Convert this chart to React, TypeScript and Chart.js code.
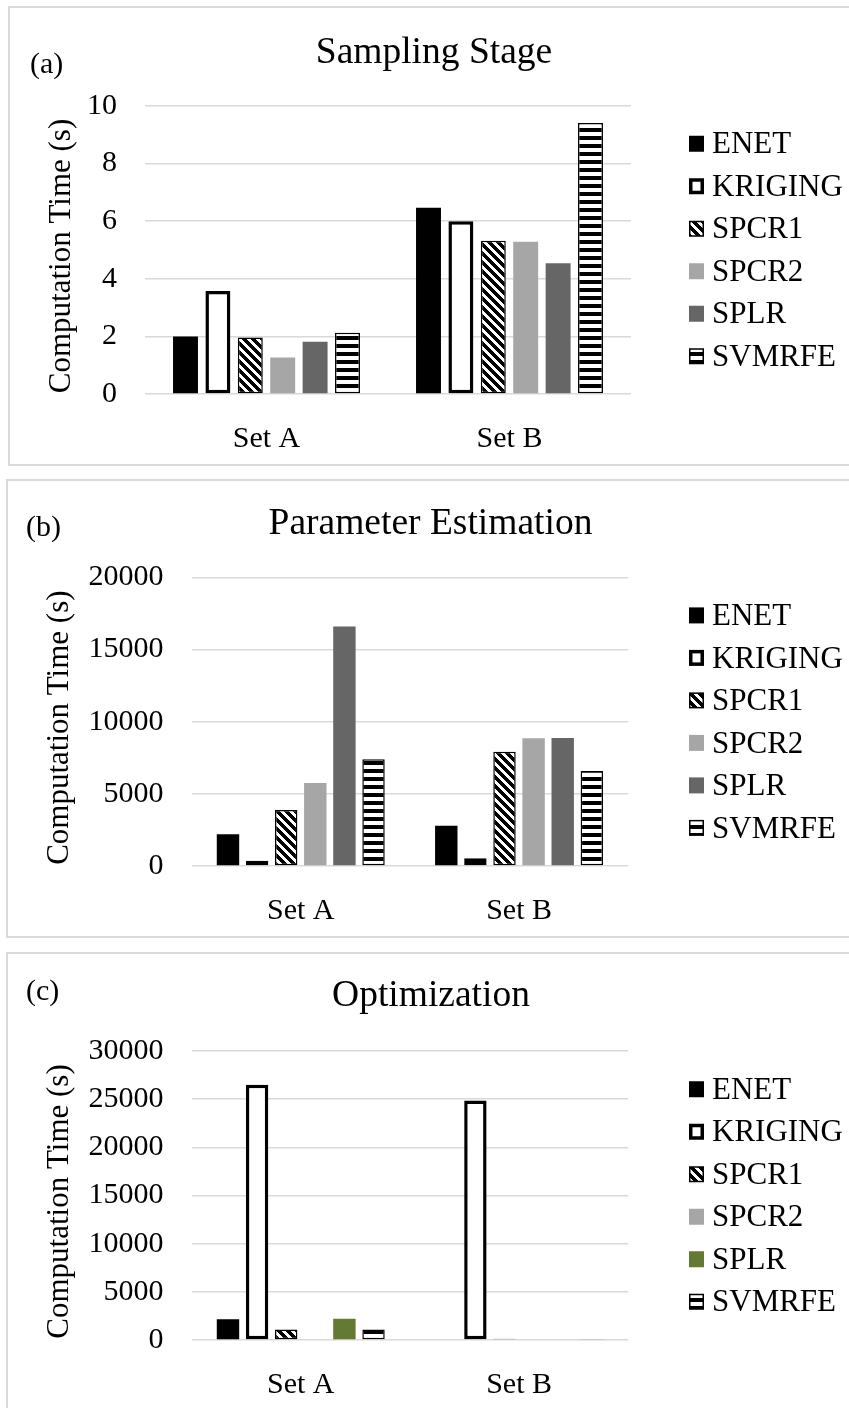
import React, { useEffect, useRef } from "react";
import { Chart, registerables } from "chart.js";

Chart.register(...registerables);

const FONT = "'Liberation Serif', 'Times New Roman', serif";

// Shared category and series names
const categories = ["Set A", "Set B"];
const seriesNames = ["ENET", "KRIGING", "SPCR1", "SPCR2", "SPLR", "SVMRFE"];
const axisTitle = "Computation Time (s)";

// (a) Sampling stage, seconds
const samplingENET = [2.0, 6.47];
const samplingKRIGING = [3.58, 6.0];
const samplingSPCR1 = [1.96, 5.32];
const samplingSPCR2 = [1.27, 5.29];
const samplingSPLR = [1.81, 4.54];
const samplingSVMRFE = [2.13, 9.41];
const samplingTicks = { max: 10, step: 2 };

// (b) Parameter estimation, seconds
const estimationENET = [2200, 2790];
const estimationKRIGING = [370, 530];
const estimationSPCR1 = [3880, 7920];
const estimationSPCR2 = [5750, 8850];
const estimationSPLR = [16600, 8870];
const estimationSVMRFE = [7390, 6580];
const estimationTicks = { max: 20000, step: 5000 };

// (c) Optimization, seconds
const optimizationENET = [2150, 0];
const optimizationKRIGING = [26500, 24850];
const optimizationSPCR1 = [1100, 120];
const optimizationSPCR2 = [0, 0];
const optimizationSPLR = [2200, 0];
const optimizationSVMRFE = [1100, 40];
const optimizationTicks = { max: 30000, step: 5000 };

type PanelCfg = {
  tag: string;
  title: string;
  values: number[][];
  ticks: { max: number; step: number };
  splrColor: string;
  box: { left: number; top: number; width: number; height: number };
  area: { left: number; right: number; top: number; bottom: number };
  titleY: number;
  tagX: number;
  tagY: number;
  legendX: number;
};

function makePattern(ctx: CanvasRenderingContext2D, kind: "diag" | "horiz") {
  const n = kind === "diag" ? 9 : 8;
  const c = document.createElement("canvas");
  c.width = n;
  c.height = n;
  const g = c.getContext("2d")!;
  g.fillStyle = "#fff";
  g.fillRect(0, 0, n, n);
  g.fillStyle = "#000";
  for (let y = 0; y < n; y++) {
    for (let x = 0; x < n; x++) {
      const on = kind === "diag" ? (((x - y) % n) + n) % n < 5 : y < 4;
      if (on) g.fillRect(x, y, 1, 1);
    }
  }
  return ctx.createPattern(c, "repeat")!;
}

// Draws the panel title, the panel tag, the value-axis title and the legend column
const decorPlugin = {
  id: "decor",
  afterDraw(chart: any, _args: any, opts: any) {
    const ctx: CanvasRenderingContext2D = chart.ctx;
    const { top, bottom } = chart.chartArea;
    const mid = (top + bottom) / 2;
    ctx.save();
    ctx.fillStyle = "#000";
    ctx.font = `37.5px ${FONT}`;
    ctx.textAlign = "center";
    ctx.textBaseline = "middle";
    ctx.fillText(opts.title, chart.width / 2, opts.titleY);

    ctx.save();
    ctx.font = `31px ${FONT}`;
    ctx.translate(52, mid + 6);
    ctx.rotate(-Math.PI / 2);
    ctx.fillText(axisTitle, 0, 0);
    ctx.restore();

    ctx.font = `30px ${FONT}`;
    ctx.textAlign = "left";
    ctx.textBaseline = "alphabetic";
    ctx.fillText(opts.tag, opts.tagX, opts.tagY);

    ctx.font = `31px ${FONT}`;
    chart.data.datasets.forEach((ds: any, i: number) => {
      const cy = mid + (i - 2.5) * 42.5;
      const bx = opts.legendX;
      const by = cy - 8;
      const bw = 15;
      const bh = 16;
      const b = ds.borderWidth || 0;
      if (b > 0) {
        ctx.fillStyle = ds.borderColor;
        ctx.fillRect(bx, by, bw, bh);
        ctx.fillStyle = ds.backgroundColor;
        ctx.fillRect(bx + b, by + b, bw - 2 * b, bh - 2 * b);
      } else {
        ctx.fillStyle = ds.backgroundColor;
        ctx.fillRect(bx, by, bw, bh);
      }
      ctx.fillStyle = "#000";
      ctx.textBaseline = "middle";
      ctx.fillText(ds.label, bx + 23, cy + 1.5);
    });
    ctx.restore();
  },
};

function Panel({ cfg }: { cfg: PanelCfg }) {
  const ref = useRef<HTMLCanvasElement>(null);
  const W = cfg.box.width - 4;
  const H = cfg.box.height - 4;

  useEffect(() => {
    const canvas = ref.current!;
    const ctx = canvas.getContext("2d")!;
    const diag = makePattern(ctx, "diag");
    const horiz = makePattern(ctx, "horiz");
    const styles = [
      { backgroundColor: "#000000", borderWidth: 0 },
      { backgroundColor: "#ffffff", borderColor: "#000000", borderWidth: 3.5, borderSkipped: false },
      { backgroundColor: diag, borderColor: "#000000", borderWidth: 1.5, borderSkipped: false },
      { backgroundColor: "#a6a6a6", borderWidth: 0 },
      { backgroundColor: cfg.splrColor, borderWidth: 0 },
      { backgroundColor: horiz, borderColor: "#000000", borderWidth: 1.5, borderSkipped: false },
    ];
    const { area } = cfg;
    const chart = new Chart(canvas, {
      type: "bar",
      data: {
        labels: categories,
        datasets: seriesNames.map((name, i) => ({
          label: name,
          data: cfg.values[i],
          categoryPercentage: 0.8,
          barPercentage: 0.77,
          ...styles[i],
        })) as any,
      },
      options: {
        responsive: false,
        animation: false,
        devicePixelRatio: 1,
        layout: { padding: { top: area.top, right: W - area.right, bottom: 0, left: 0 } },
        plugins: {
          legend: { display: false },
          title: { display: false },
          tooltip: { enabled: false },
          decor: {
            title: cfg.title,
            titleY: cfg.titleY,
            tag: cfg.tag,
            tagX: cfg.tagX,
            tagY: cfg.tagY,
            legendX: cfg.legendX,
          },
        } as any,
        scales: {
          x: {
            grid: { display: false },
            border: { display: false },
            ticks: { color: "#000", font: { family: FONT, size: 30 }, padding: 19.5, autoSkip: false, maxRotation: 0 },
            afterFit: (s: any) => {
              s.height = H - area.bottom;
            },
          },
          y: {
            min: 0,
            max: cfg.ticks.max,
            ticks: {
              stepSize: cfg.ticks.step,
              color: "#000",
              font: { family: FONT, size: 30 },
              padding: 28,
              callback: (v: any) => String(v),
            },
            grid: { color: "#d9d9d9", lineWidth: 1.5, drawTicks: false },
            border: { display: false },
            title: { display: false },
            afterFit: (s: any) => {
              s.width = area.left;
            },
          },
        },
      },
      plugins: [decorPlugin],
    });
    return () => chart.destroy();
  }, []);

  return (
    <div
      style={{
        position: "absolute",
        left: cfg.box.left,
        top: cfg.box.top,
        width: cfg.box.width,
        height: cfg.box.height,
        border: "2px solid #d9d9d9",
        boxSizing: "border-box",
        background: "#fff",
        overflow: "hidden",
      }}
    >
      <canvas ref={ref} width={W} height={H} style={{ display: "block" }} />
    </div>
  );
}

const panels: PanelCfg[] = [
  {
    tag: "(a)",
    title: "Sampling Stage",
    values: [samplingENET, samplingKRIGING, samplingSPCR1, samplingSPCR2, samplingSPLR, samplingSVMRFE],
    ticks: samplingTicks,
    splrColor: "#666666",
    box: { left: 8, top: 6, width: 852, height: 460 },
    area: { left: 135, right: 621, top: 98, bottom: 386 },
    titleY: 45,
    tagX: 20,
    tagY: 65,
    legendX: 679,
  },
  {
    tag: "(b)",
    title: "Parameter Estimation",
    values: [estimationENET, estimationKRIGING, estimationSPCR1, estimationSPCR2, estimationSPLR, estimationSVMRFE],
    ticks: estimationTicks,
    splrColor: "#666666",
    box: { left: 6, top: 479, width: 849, height: 459 },
    area: { left: 183.6, right: 620.2, top: 96.3, bottom: 385 },
    titleY: 43,
    tagX: 18,
    tagY: 54.7,
    legendX: 681,
  },
  {
    tag: "(c)",
    title: "Optimization",
    values: [optimizationENET, optimizationKRIGING, optimizationSPCR1, optimizationSPCR2, optimizationSPLR, optimizationSVMRFE],
    ticks: optimizationTicks,
    splrColor: "#647a34",
    box: { left: 6, top: 952, width: 850, height: 460 },
    area: { left: 183.6, right: 620.2, top: 97, bottom: 386 },
    titleY: 42.5,
    tagX: 18,
    tagY: 46.2,
    legendX: 681,
  },
];

export default function App() {
  return (
    <div
      style={{
        position: "fixed",
        left: 0,
        top: 0,
        width: 849,
        height: 1408,
        overflow: "hidden",
        background: "#fff",
      }}
    >
      {panels.map((p) => (
        <Panel key={p.tag} cfg={p} />
      ))}
    </div>
  );
}
